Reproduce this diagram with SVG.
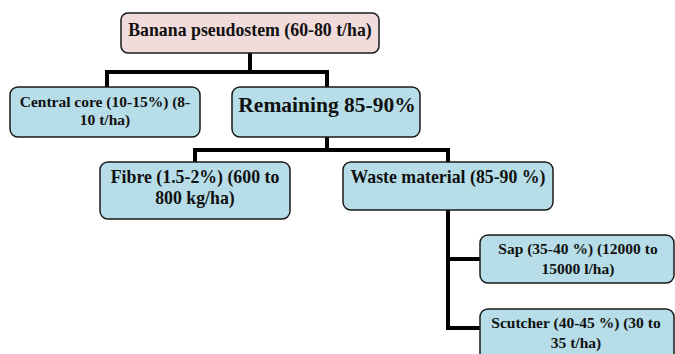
<svg xmlns="http://www.w3.org/2000/svg" width="675" height="354" viewBox="0 0 675 354">
<style>
.box{stroke:#1a1a1a;stroke-width:1.5}
.pink{fill:#f2dcdb}
.blue{fill:#b7dee8}
text{font-family:"Liberation Serif","Times New Roman",serif;font-weight:bold;fill:#111;text-anchor:middle}
.con{fill:none;stroke:#000;stroke-width:4}
</style>
<rect width="675" height="354" fill="#fff"/>
<g id="connectors">
<path class="con" d="M250 53V72M107 87V72H327V87"/>
<path class="con" d="M327 137V150M195 162V150H448V162"/>
<path class="con" d="M448 210V328H480M448 259H480"/>
</g>
<g id="banana">
<rect class="box pink" x="121" y="13" width="258" height="40" rx="7"/>
<text x="250" y="36" font-size="17.8">Banana pseudostem (60-80 t/ha)</text>
</g>
<g id="central">
<rect class="box blue" x="10" y="87" width="190" height="50" rx="8"/>
<text x="105" y="107" font-size="15.5">Central core (10-15%) (8-</text>
<text x="105" y="125" font-size="15.5">10 t/ha)</text>
</g>
<g id="remaining">
<rect class="box blue" x="232" y="87" width="188" height="50" rx="8"/>
<text x="327" y="112" font-size="21.5">Remaining 85-90%</text>
</g>
<g id="fibre">
<rect class="box blue" x="100" y="162" width="190" height="57" rx="8"/>
<text x="195" y="183" font-size="17.8">Fibre (1.5-2%) (600 to</text>
<text x="195" y="204" font-size="17.8">800 kg/ha)</text>
</g>
<g id="waste">
<rect class="box blue" x="343" y="162" width="210" height="48" rx="8"/>
<text x="448" y="183" font-size="17.8">Waste material (85-90 %)</text>
</g>
<g id="sap">
<rect class="box blue" x="480" y="235" width="194" height="48" rx="8"/>
<text x="578" y="254" font-size="15.5">Sap (35-40 %) (12000 to</text>
<text x="578" y="274" font-size="15.5">15000 l/ha)</text>
</g>
<g id="scutcher">
<rect class="box blue" x="480" y="309" width="194" height="52" rx="8"/>
<text x="576" y="328" font-size="15.5">Scutcher (40-45 %) (30 to</text>
<text x="576" y="348" font-size="15.5">35 t/ha)</text>
</g>
</svg>
